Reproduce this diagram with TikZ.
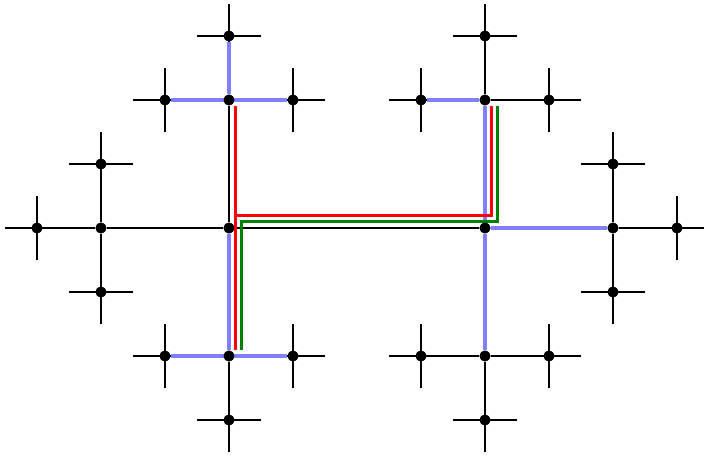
\documentclass[tikz,border=0pt]{standalone}
\usepackage{tikz}
\usetikzlibrary{positioning}
\definecolor{treeblue}{RGB}{128,128,255}
\definecolor{routegreen}{RGB}{0,128,0}

\begin{document}
\begin{tikzpicture}[
          dot/.style={circle, fill=black, inner sep=0pt, minimum size=0.17cm},
          edge/.style={black, line width=0.9pt},
          hot/.style={treeblue, line width=2pt},
          redroute/.style={red, line width=1.3pt},
          greenroute/.style={routegreen, line width=1.3pt},
        ]
          \useasboundingbox (-3.578,-3.5625) rectangle (7.422,3.5625);

          % hubs and branch points
          \node[dot] (hubL) at (0,0)  {};
          \node[dot] (hubR) at (4,0)  {};
          \node[dot] (w)    at (-2,0) {};
          \node[dot] (n)    at (0,2)  {};
          \node[dot] (s)    at (0,-2) {};
          \node[dot] (e)    at (6,0)  {};
          \node[dot] (ne)   at (4,2)  {};
          \node[dot] (se)   at (4,-2) {};

          % leaves
          \node[dot] (w1)  at (-3,0)  {};
          \node[dot] (w2)  at (-2,1)  {};
          \node[dot] (w3)  at (-2,-1) {};
          \node[dot] (n1)  at (-1,2)  {};
          \node[dot] (n2)  at (1,2)   {};
          \node[dot] (n3)  at (0,3)   {};
          \node[dot] (s1)  at (-1,-2) {};
          \node[dot] (s2)  at (1,-2)  {};
          \node[dot] (s3)  at (0,-3)  {};
          \node[dot] (ne1) at (3,2)   {};
          \node[dot] (ne2) at (5,2)   {};
          \node[dot] (ne3) at (4,3)   {};
          \node[dot] (se1) at (3,-2)  {};
          \node[dot] (se2) at (5,-2)  {};
          \node[dot] (se3) at (4,-3)  {};
          \node[dot] (e1)  at (7,0)   {};
          \node[dot] (e2)  at (6,1)   {};
          \node[dot] (e3)  at (6,-1)  {};

          % tree
          \draw[edge] (hubL)--(hubR); \draw[edge] (hubL)--(w);
          \draw[edge] (hubL)--(n);    \draw[edge] (hubL)--(s);
          \draw[edge] (hubR)--(e);    \draw[edge] (hubR)--(ne);
          \draw[edge] (hubR)--(se);
          \foreach \p in {w,n,s,ne,se,e}
            \foreach \k in {1,2,3}
              \draw[edge] (\p)--(\p\k);
          \foreach \l in {w1,w2,w3,n1,n2,n3,s1,s2,s3,ne1,ne2,ne3,se1,se2,se3,e1,e2,e3}
            \draw[edge] (\l.center) +(-0.5,0) -- +(0.5,0) +(0,-0.5) -- +(0,0.5);

          % highlighted branches
          \draw[hot] (n)--(n3);   \draw[hot] (n1)--(n2);
          \draw[hot] (hubL)--(s); \draw[hot] (s1)--(s2);
          \draw[hot] (ne1)--(ne); \draw[hot] (ne)--(hubR);
          \draw[hot] (hubR)--(e); \draw[hot] (hubR)--(se);

          % routes
          \draw[redroute] ([xshift=1mm,yshift=-1mm]n.center) -- ([xshift=1mm,yshift=1mm]s.center);
          \draw[redroute] ([xshift=1mm,yshift=2mm]hubL.center) -- ([xshift=1mm,yshift=2mm]hubR.center)
            -- ([xshift=1mm,yshift=-1mm]ne.center);
          \draw[greenroute] ([xshift=2mm,yshift=1mm]s.center) |- ([xshift=2mm,yshift=1mm]hubR.center)
            -- ([xshift=2mm,yshift=-1mm]ne.center);

          % dots on top
          \foreach \d in {hubL,hubR,w,n,s,e,ne,se,w1,w2,w3,n1,n2,n3,s1,s2,s3,ne1,ne2,ne3,se1,se2,se3,e1,e2,e3}
            \fill (\d.center) circle (0.085);
        \end{tikzpicture}
\end{document}
